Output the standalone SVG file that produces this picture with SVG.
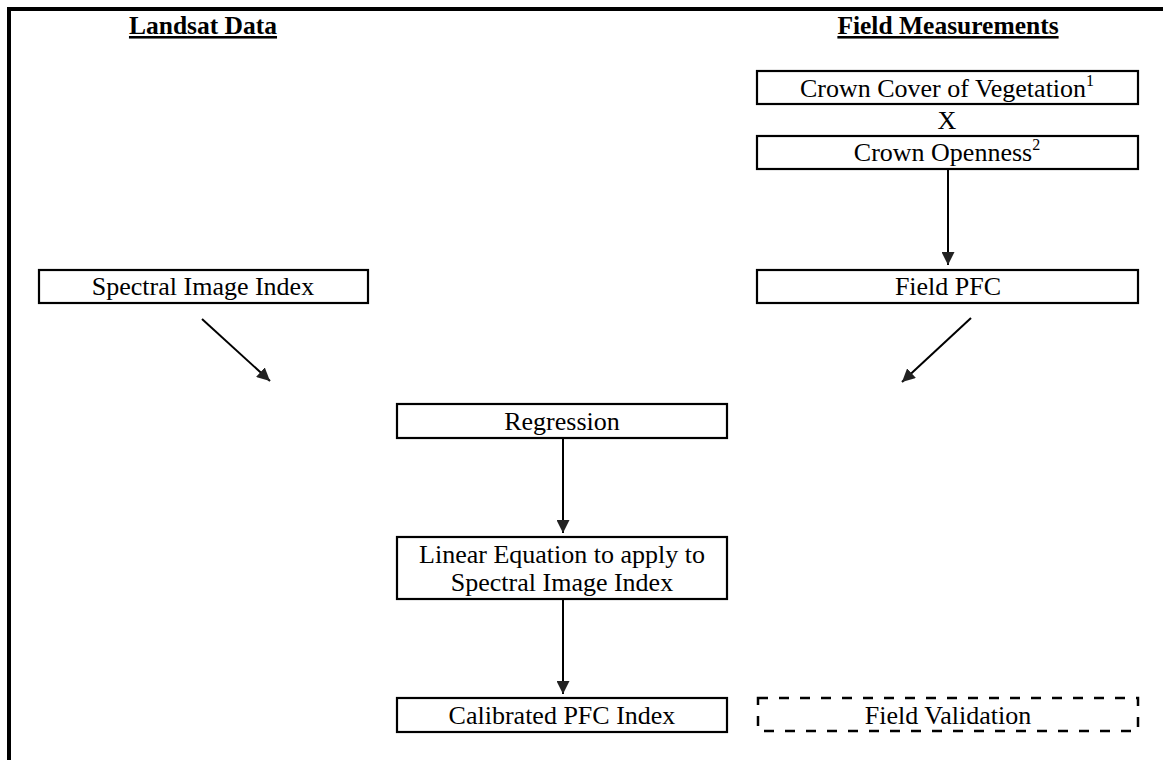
<svg xmlns="http://www.w3.org/2000/svg" width="1163" height="760" viewBox="0 0 1163 760">
<style>
.box{fill:#fff;stroke:#000;stroke-width:2.2}
.dash{fill:none;stroke:#000;stroke-width:2.5;stroke-dasharray:10 11}
.t{font-family:"Liberation Serif","Times New Roman",serif;font-size:26px;fill:#000;text-anchor:middle}
.h{font-family:"Liberation Serif","Times New Roman",serif;font-size:25.5px;font-weight:bold;fill:#000;text-anchor:middle;text-decoration:underline}
.c{stroke:#000;stroke-width:2;fill:none;marker-end:url(#ah)}
</style>
<defs>
<marker id="ah" viewBox="0 0 10 10" refX="10" refY="5" markerWidth="13" markerHeight="13" markerUnits="userSpaceOnUse" orient="auto">
<path d="M0,0 L10,5 L0,10 Z" fill="#222"/>
</marker>
</defs>
<rect x="0" y="0" width="1163" height="760" fill="#fff"/>
<rect x="9" y="9" width="1200" height="800" fill="none" stroke="#000" stroke-width="4"/>
<g id="hdr-landsat"><text class="h" x="203" y="34">Landsat Data</text></g>
<g id="hdr-field"><text class="h" x="948" y="34">Field Measurements</text></g>
<g id="crown-cover"><rect class="box" x="757" y="71" width="381" height="33"/><text class="t" x="947" y="97">Crown Cover of Vegetation<tspan font-size="16" dy="-11">1</tspan></text></g>
<g id="times"><text class="t" x="947" y="129">X</text></g>
<g id="crown-openness"><rect class="box" x="757" y="136" width="381" height="33"/><text class="t" x="947" y="161">Crown Openness<tspan font-size="16" dy="-11">2</tspan></text></g>
<g id="field-pfc"><rect class="box" x="757" y="270" width="381" height="33"/><text class="t" x="948" y="295">Field PFC</text></g>
<g id="spectral"><rect class="box" x="39" y="270" width="329" height="33"/><text class="t" x="203" y="295">Spectral Image Index</text></g>
<g id="regression"><rect class="box" x="397" y="404" width="330" height="34"/><text class="t" x="562" y="430">Regression</text></g>
<g id="linear"><rect class="box" x="397" y="537" width="330" height="62"/><text class="t" x="562" y="563">Linear Equation to apply to</text><text class="t" x="562" y="591">Spectral Image Index</text></g>
<g id="calibrated"><rect class="box" x="397" y="698" width="330" height="34"/><text class="t" x="562" y="724">Calibrated PFC Index</text></g>
<g id="validation"><rect class="dash" x="758" y="698" width="380" height="33"/><text class="t" x="948" y="724">Field Validation</text></g>
<g id="connectors">
<line class="c" x1="948" y1="169" x2="948" y2="265"/>
<line class="c" x1="202" y1="319" x2="270" y2="381"/>
<line class="c" x1="971" y1="318" x2="902" y2="382"/>
<line class="c" x1="563" y1="438" x2="563" y2="533"/>
<line class="c" x1="563" y1="599" x2="563" y2="694"/>
</g>
</svg>
